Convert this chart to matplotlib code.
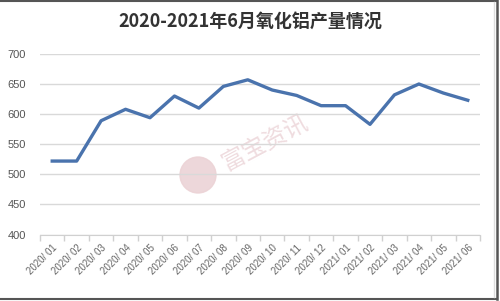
import matplotlib
matplotlib.use("Agg")
import matplotlib.pyplot as plt
from matplotlib.patches import Circle
from matplotlib.lines import Line2D

plt.rcParams['font.family'] = ['Liberation Sans', 'DejaVu Sans']

title = "2020-2021年6月氧化铝产量情况"
months = ["2020/ 01", "2020/ 02", "2020/ 03", "2020/ 04", "2020/ 05", "2020/ 06",
          "2020/ 07", "2020/ 08", "2020/ 09", "2020/ 10", "2020/ 11", "2020/ 12",
          "2021/ 01", "2021/ 02", "2021/ 03", "2021/ 04", "2021/ 05", "2021/ 06"]
values = [522, 522, 589, 608, 594, 630, 610, 646, 657, 640, 631, 614,
          614, 583, 632, 650, 635, 623]
yticks = [400, 450, 500, 550, 600, 650, 700]

fig = plt.figure(figsize=(5.0, 3.01), dpi=100)
fig.patch.set_facecolor('white')
ax = fig.add_axes([0.08, 0.2209, 0.88, 0.6], zorder=2)
ax.patch.set_alpha(0)

x = list(range(len(values)))
ax.plot(x, values, color='#4a73ad', lw=2.4, solid_joinstyle='round', zorder=3)

ax.set_xlim(-0.5, len(values) - 0.5)
ax.set_ylim(400, 700)
ax.set_yticks(yticks)
ax.set_yticklabels([str(v) for v in yticks], fontsize=8, color='#555555')
ax.tick_params(axis='y', length=0, pad=10)
ax.grid(axis='y', color='#d9d9d9', lw=1)
ax.set_axisbelow(True)

ax.set_xticks(x)
ax.set_xticklabels(months, rotation=45, ha='right', rotation_mode='anchor',
                   fontsize=7, color='#666666')
ax.tick_params(axis='x', length=0, pad=6)
ax.set_xticks([i - 0.5 for i in range(len(values) + 1)], minor=True)
ax.tick_params(axis='x', which='minor', length=4, color='#d0d0d0', width=1)

for s in ['top', 'right', 'left']:
    ax.spines[s].set_visible(False)
ax.spines['bottom'].set_color('#d0d0d0')

fig.text(0.5, 0.93, title, ha='center', va='center', fontsize=13,
         fontweight='bold', color='#333333',
         family=['Noto Sans CJK SC', 'DejaVu Sans'])

# watermark
wm = fig.add_axes([0, 0, 1, 1], zorder=1)
wm.set_xlim(0, 500)
wm.set_ylim(301, 0)
wm.axis('off')
wm.add_patch(Circle((198, 175), 18, color='#ecd3d6', alpha=0.9))
wm.text(265, 143, "富宝资讯", fontsize=17, color='#efdcdf', rotation=28,
        ha='center', va='center', family=['Noto Sans CJK SC'])

# frame
frame = fig.add_axes([0, 0, 1, 1], zorder=5)
frame.set_xlim(0, 500)
frame.set_ylim(301, 0)
frame.axis('off')
frame.add_line(Line2D([0, 497], [0.8, 0.8], color='#555555', lw=1.5))
frame.add_line(Line2D([496.5, 496.5], [0, 299], color='#555555', lw=1.8))
frame.add_line(Line2D([0, 497], [298.5, 298.5], color='#555555', lw=1.5))
frame.add_line(Line2D([493.5, 493.5], [2, 297], color='#dddddd', lw=1))

fig.savefig("out.png", dpi=100, facecolor='white')
